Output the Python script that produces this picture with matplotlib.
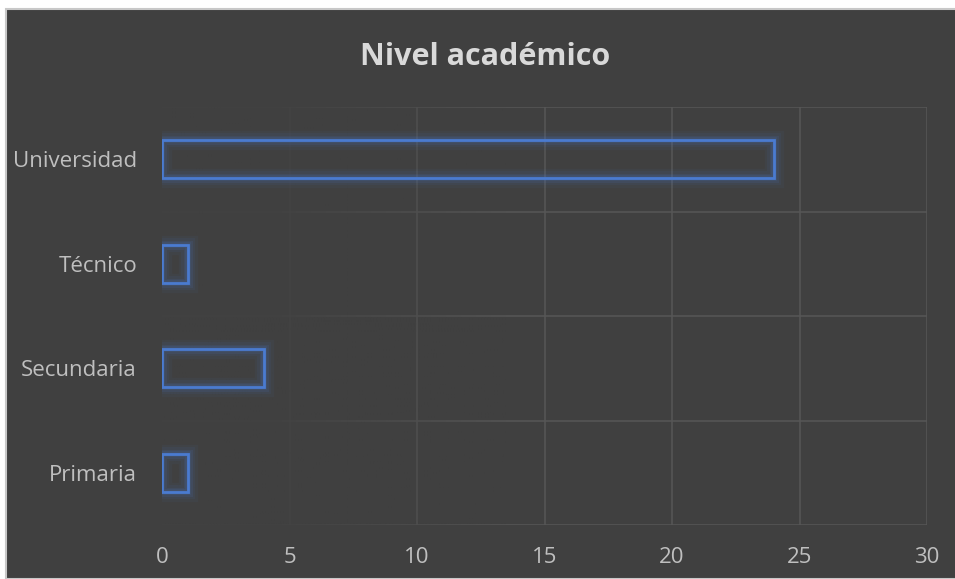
import matplotlib.pyplot as plt
import matplotlib.patches as patches
import numpy as np

# data
categories = ['Primaria', 'Secundaria', 'Técnico', 'Universidad']
counts = [1, 4, 1, 24]
xticks = [0, 5, 10, 15, 20, 25, 30]

bg = '#404040'
edge = '#4a7bd0'
txt = '#bfbfbf'

plt.rcParams['font.family'] = ['Open Sans', 'DejaVu Sans']

fig = plt.figure(figsize=(9.55, 5.79), dpi=100)
fig.patch.set_facecolor('white')
# dark chart panel with thin light border
panel = patches.Rectangle((6/955, 0), 1, 1 - 9/579, transform=fig.transFigure,
                          facecolor=bg, edgecolor='#c8c8c8', linewidth=1.5, zorder=-5)
fig.patches.append(panel)

ax = fig.add_axes([162/955, 54/579, 765/955, 418/579])
ax.set_facecolor(bg)
ax.set_xlim(0, 30)
ax.set_ylim(-0.5, len(categories) - 0.5)

# grid lines
for xv in xticks[1:]:
    ax.axvline(xv, color='#575757', lw=1.1, zorder=1)
for yv in np.arange(-0.5, len(categories), 1.0):
    ax.axhline(yv, color='#575757', lw=1.1, zorder=1)

# fade grid towards the left like the original
grad = np.ones((1, 256, 4))
grad[..., :3] = np.array([0x40, 0x40, 0x40]) / 255
xs = np.linspace(0, 1, 256)
grad[0, :, 3] = np.clip((0.45 - xs) / 0.3, 0, 1) * 0.9
ax.imshow(grad, extent=[0, 30, -0.5, len(categories) - 0.5], aspect='auto', zorder=2)

# hollow bars with a soft glow
h = 0.36
y = np.arange(len(categories))
for w, a in [(14, 0.05), (10, 0.07), (6.5, 0.1), (4, 0.14)]:
    ax.barh(y, counts, height=h, left=0, facecolor='none', edgecolor=edge,
            linewidth=w, alpha=a, zorder=3)
ax.barh(y, counts, height=h, facecolor='none', edgecolor=edge, linewidth=2, zorder=4)

ax.set_xticks(xticks)
ax.set_yticks(y)
ax.set_yticklabels(categories)
ax.tick_params(axis='both', length=0, colors=txt, labelsize=16)
ax.tick_params(axis='y', pad=18)
ax.tick_params(axis='x', pad=16)
for s in ax.spines.values():
    s.set_visible(False)

fig.text(485/955, 1 - 57/579, 'Nivel académico', ha='center', va='center',
         fontsize=22, fontweight='bold', color='#d9d9d9')

plt.savefig('out.png', dpi=100, facecolor=fig.get_facecolor())
